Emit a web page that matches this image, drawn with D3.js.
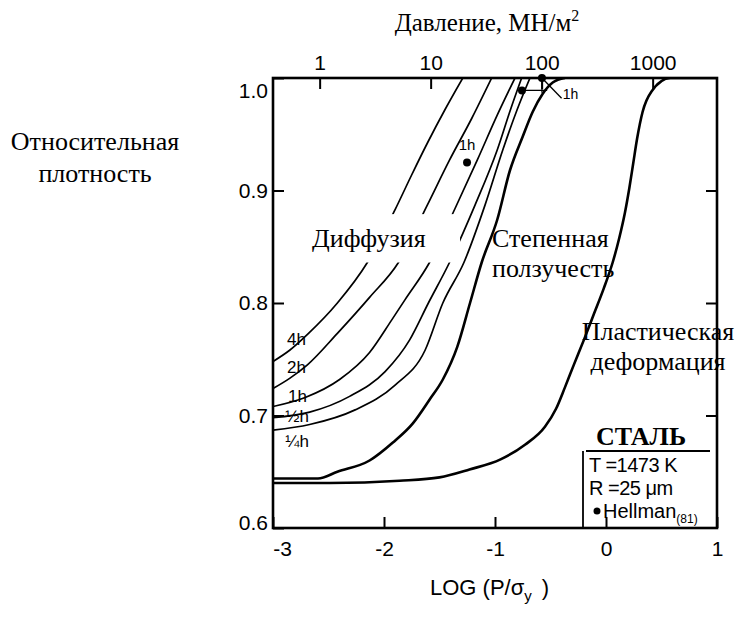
<!DOCTYPE html>
<html>
<head>
<meta charset="utf-8">
<script src="https://cdn.jsdelivr.net/npm/d3@7"></script>
<style>
  html, body { margin: 0; padding: 0; background: #fff; }
  svg { display: block; }
</style>
</head>
<body>
<svg id="chart" width="737" height="619"></svg>
<script>
// Relative density of steel powder compacts versus log(P/σy), T = 1473 K, R = 25 µm

const densityTicks = [0.6, 0.7, 0.8, 0.9, 1.0];
const innerDensityTicks = [0.7, 0.8, 0.9];
const logTicks = [-3, -2, -1, 0, 1];
const pressureTicks = [1, 10, 100, 1000];   // MN/m²
const yieldStress = 380;                     // σy, MN/m²

// [log(P/σy), relative density]
const powerLawCreep = [
  [-3.00, 0.644], [-2.595, 0.644], [-2.42, 0.650], [-2.13, 0.660], [-1.92, 0.676],
  [-1.74, 0.693], [-1.59, 0.714], [-1.47, 0.732], [-1.34, 0.761], [-1.225, 0.800],
  [-1.12, 0.836], [-0.98, 0.874], [-0.865, 0.918], [-0.75, 0.948], [-0.66, 0.970],
  [-0.57, 0.986], [-0.48, 0.996], [-0.37, 1.000]
];
const plasticYield = [
  [-3.00, 0.640], [-2.49, 0.640], [-1.86, 0.642], [-1.50, 0.645], [-1.23, 0.652],
  [-0.95, 0.661], [-0.73, 0.674], [-0.55, 0.690], [-0.45, 0.706], [-0.37, 0.725],
  [-0.29, 0.745], [-0.20, 0.767], [-0.11, 0.790], [-0.02, 0.813], [0.06, 0.836],
  [0.12, 0.858], [0.17, 0.880], [0.21, 0.902], [0.245, 0.924], [0.28, 0.946],
  [0.33, 0.970], [0.41, 0.988], [0.58, 1.000], [1.00, 1.000]
];
const diffusion4h = [
  [-3.00, 0.748], [-2.85, 0.758], [-2.68, 0.773], [-2.42, 0.800], [-2.15, 0.836],
  [-1.90, 0.883], [-1.75, 0.914], [-1.61, 0.942], [-1.45, 0.972], [-1.29, 1.000]
];
const diffusion2h = [
  [-3.00, 0.724], [-2.85, 0.733], [-2.69, 0.745], [-2.42, 0.773], [-2.13, 0.805],
  [-1.87, 0.836], [-1.61, 0.887], [-1.41, 0.927], [-1.21, 0.964], [-1.03, 1.000]
];
const diffusion1h = [
  [-3.00, 0.708], [-2.71, 0.716], [-2.40, 0.732], [-2.13, 0.756], [-1.93, 0.785],
  [-1.81, 0.803], [-1.59, 0.836], [-1.36, 0.884], [-1.16, 0.927], [-0.98, 0.967],
  [-0.82, 1.000]
];
const diffusionHalfH = [
  [-3.00, 0.698], [-2.67, 0.703], [-2.31, 0.717], [-1.99, 0.739], [-1.77, 0.767],
  [-1.60, 0.800], [-1.41, 0.836], [-1.18, 0.887], [-0.98, 0.936], [-0.86, 0.972],
  [-0.76, 1.000]
];
const diffusionQuarterH = [
  [-3.00, 0.687], [-2.67, 0.692], [-2.26, 0.705], [-1.90, 0.727], [-1.63, 0.758],
  [-1.47, 0.800], [-1.28, 0.836], [-1.09, 0.887], [-0.93, 0.936], [-0.80, 0.972],
  [-0.685, 1.000]
];
const hellmanPoints = [[-0.577, 1.000], [-0.757, 0.989], [-1.252, 0.925]];

// Time labels at the start of each diffusion curve
const timeLabels = [
  { text: "4h", at: [-2.874, 0.763] },
  { text: "2h", at: [-2.874, 0.738] },
  { text: "1h", at: [-2.865, 0.712] },
  { text: "½h", at: [-2.89, 0.694] },
  { text: "¼h", at: [-2.89, 0.672] }
];

const margin = { left: 273, right: 20, top: 78, bottom: 91 };
const W = 737, H = 619;

const svg = d3.select("#chart");
const x = d3.scaleLinear().domain([-3, 1]).range([margin.left, W - margin.right]);
const y = d3.scaleLinear().domain([0.6, 1.0]).range([H - margin.bottom, margin.top]);
const p = d3.scaleLog()
  .domain([yieldStress * 1e-3, yieldStress * 10])
  .range([margin.left, W - margin.right]);

const sans = "'Liberation Sans', Arial, sans-serif";
const serif = "'Liberation Serif', 'Times New Roman', serif";

svg.append("defs").append("clipPath").attr("id", "plot")
  .append("rect")
  .attr("x", x(-3)).attr("y", y(1.0))
  .attr("width", x(1) - x(-3)).attr("height", y(0.6) - y(1.0));

const line = d3.line().x(d => x(d[0])).y(d => y(d[1])).curve(d3.curveMonotoneX);

const curves = svg.append("g").attr("clip-path", "url(#plot)").attr("fill", "none").attr("stroke", "#000");

[diffusion4h, diffusion2h, diffusion1h, diffusionHalfH, diffusionQuarterH].forEach(c => {
  curves.append("path").attr("d", line(c)).attr("stroke-width", 1.7);
});
[powerLawCreep, plasticYield].forEach(c => {
  curves.append("path").attr("d", line(c)).attr("stroke-width", 2.6);
});

// White backing behind the diffusion region label
svg.append("rect")
  .attr("x", x(-2.67)).attr("y", y(0.879))
  .attr("width", x(-1.315) - x(-2.67)).attr("height", y(0.836) - y(0.879))
  .attr("fill", "#fff");

// Hellman data and leaders
const ann = svg.append("g").attr("stroke", "#000").attr("stroke-width", 1.3).attr("fill", "none");
ann.append("line")
  .attr("x1", x(hellmanPoints[1][0])).attr("y1", y(hellmanPoints[1][1]))
  .attr("x2", x(-0.53)).attr("y2", y(hellmanPoints[1][1]));
ann.append("line")
  .attr("x1", x(hellmanPoints[0][0])).attr("y1", y(hellmanPoints[0][1]))
  .attr("x2", x(hellmanPoints[0][0])).attr("y2", y(0.987));
ann.append("line")
  .attr("x1", x(hellmanPoints[0][0])).attr("y1", y(hellmanPoints[0][1]))
  .attr("x2", x(-0.40)).attr("y2", y(0.982));

svg.append("g").selectAll("circle").data(hellmanPoints).join("circle")
  .attr("cx", d => x(d[0])).attr("cy", d => y(d[1])).attr("r", 4).attr("fill", "#000");

svg.append("text").attr("x", x(-0.39)).attr("y", y(0.981))
  .attr("font-family", sans).attr("font-size", 14).text("1h");
svg.append("text").attr("x", x(hellmanPoints[2][0])).attr("y", y(0.936))
  .attr("text-anchor", "middle").attr("font-family", sans).attr("font-size", 15).text("1h");

// Time labels
svg.append("g").selectAll("text").data(timeLabels).join("text")
  .attr("x", d => x(d.at[0])).attr("y", d => y(d.at[1]))
  .attr("font-family", sans).attr("font-size", 17)
  .text(d => d.text);

// Axes with inward ticks
function styleAxis(g) {
  g.select(".domain").remove();
  g.selectAll("line").attr("stroke", "#000").attr("stroke-width", 2);
  g.selectAll("text").attr("font-family", sans).attr("font-size", 21).attr("fill", "#000");
}

svg.append("g").attr("transform", `translate(0,${y(0.6)})`)
  .call(d3.axisBottom(x).tickValues(logTicks).tickSize(-11).tickPadding(13).tickFormat(d => String(d)))
  .call(styleAxis)
  .call(g => g.selectAll("text").filter(d => d === -3).attr("dx", 9));

svg.append("g").attr("transform", `translate(${x(-3)},0)`)
  .call(d3.axisLeft(y).tickValues(densityTicks).tickSize(-11).tickPadding(5).tickFormat(d3.format(".1f")))
  .call(styleAxis)
  .call(g => g.selectAll("text").filter(d => d === 1.0).attr("dy", "0.95em"))
  .call(g => g.selectAll("text").filter(d => d === 0.6).attr("dy", "0.08em"));

svg.append("g").attr("transform", `translate(${x(1)},0)`)
  .call(d3.axisRight(y).tickValues(innerDensityTicks).tickSize(-11).tickFormat(""))
  .call(styleAxis);

svg.append("g").attr("transform", `translate(0,${y(1.0)})`)
  .call(d3.axisTop(p).tickValues(pressureTicks).tickSize(-11).tickPadding(8).tickFormat(d => String(d)))
  .call(styleAxis);

// Frame
svg.append("rect")
  .attr("x", x(-3)).attr("y", y(1.0))
  .attr("width", x(1) - x(-3)).attr("height", y(0.6) - y(1.0))
  .attr("fill", "none").attr("stroke", "#000").attr("stroke-width", 2.6);

// Titles
const title = svg.append("text").attr("x", 487).attr("y", 31).attr("text-anchor", "middle")
  .attr("font-family", serif).attr("font-size", 25);
title.append("tspan").text("Давление, МН/м");
title.append("tspan").attr("dy", -10).attr("font-size", 16).text("2");

const yTitle = svg.append("text").attr("text-anchor", "middle")
  .attr("font-family", serif).attr("font-size", 26);
yTitle.append("tspan").attr("x", 95).attr("y", 150).text("Относительная");
yTitle.append("tspan").attr("x", 95).attr("y", 182).text("плотность");

const xTitle = svg.append("text").attr("x", 430).attr("y", 595)
  .attr("font-family", sans).attr("font-size", 22);
xTitle.append("tspan").text("LOG (P/σ");
xTitle.append("tspan").attr("dy", 6).attr("font-size", 15).text("y");
xTitle.append("tspan").attr("dy", -6).attr("dx", 10).text(")");

// Mechanism regions
function regionLabel(lines, xPos, yPos, anchor) {
  const t = svg.append("text").attr("text-anchor", anchor)
    .attr("font-family", serif).attr("font-size", 26);
  lines.forEach((s, i) => t.append("tspan").attr("x", xPos).attr("y", yPos + i * 30).text(s));
}
regionLabel(["Диффузия"], 312, 247, "start");
regionLabel(["Степенная", "ползучесть"], 492, 247, "start");
regionLabel(["Пластическая", "деформация"], 658, 340, "middle");

// Material legend
svg.append("text").attr("x", 641).attr("y", 445).attr("text-anchor", "middle")
  .attr("font-family", serif).attr("font-weight", "bold").attr("font-size", 26).text("СТАЛЬ");
const leg = svg.append("g").attr("stroke", "#000").attr("stroke-width", 1.8);
leg.append("line").attr("x1", 586).attr("x2", 710).attr("y1", 451).attr("y2", 451);
leg.append("line").attr("x1", 583).attr("x2", 583).attr("y1", 451).attr("y2", y(0.6));

const legText = svg.append("g").attr("font-family", sans).attr("font-size", 20);
legText.append("text").attr("x", 589).attr("y", 472).attr("letter-spacing", -0.5).text("T =1473 K");
legText.append("text").attr("x", 589).attr("y", 495).attr("letter-spacing", -0.5).text("R =25 μm");
legText.append("circle").attr("cx", 597).attr("cy", 511).attr("r", 3.5).attr("fill", "#000");
const hl = legText.append("text").attr("x", 603).attr("y", 518);
hl.append("tspan").text("Hellman");
hl.append("tspan").attr("dy", 5).attr("font-size", 12).text("(81)");
</script>
</body>
</html>
